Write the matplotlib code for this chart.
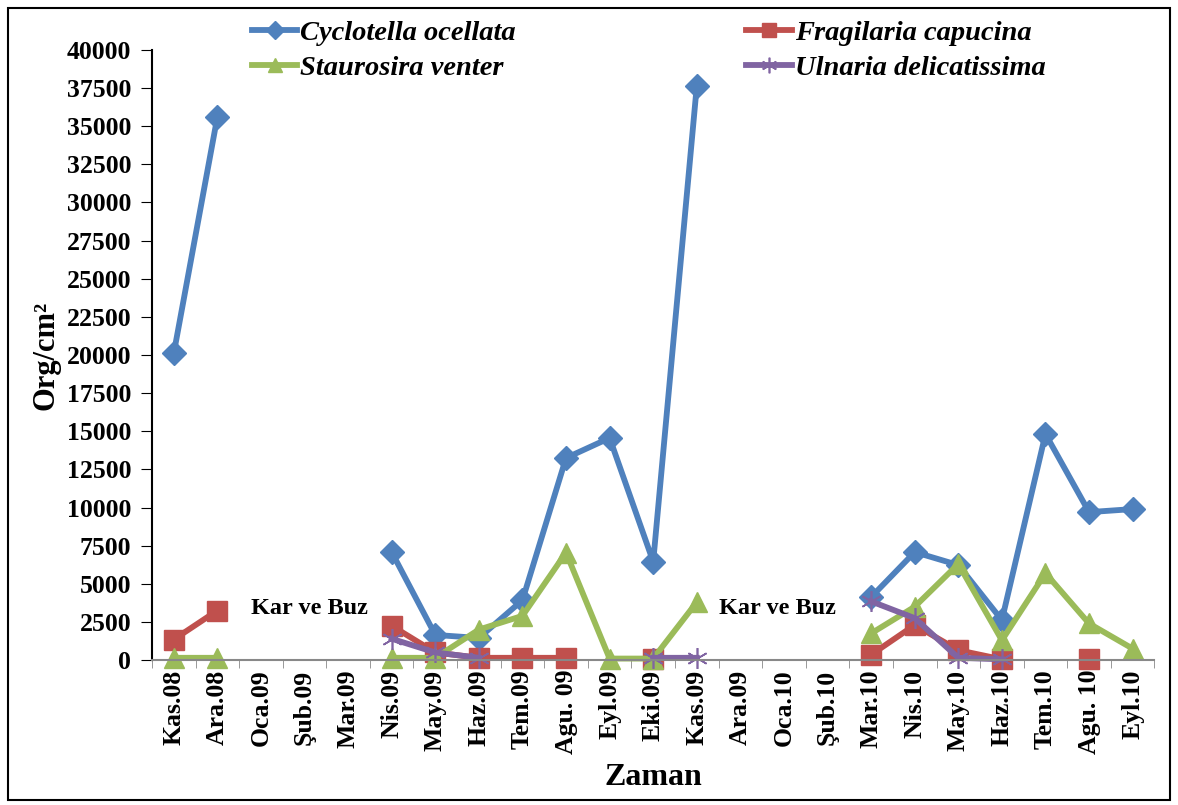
import numpy as np
import matplotlib
matplotlib.use("Agg")
import matplotlib.pyplot as plt
from matplotlib.patches import Rectangle

nan = np.nan

months = ["Kas.08", "Ara.08", "Oca.09", "Şub.09", "Mar.09", "Nis.09", "May.09",
          "Haz.09", "Tem.09", "Agu. 09", "Eyl.09", "Eki.09", "Kas.09", "Ara.09",
          "Oca.10", "Şub.10", "Mar.10", "Nis.10", "May.10", "Haz.10", "Tem.10",
          "Agu. 10", "Eyl.10"]

cyclotella = [20100, 35600, nan, nan, nan, 7080, 1650, 1450, 3930, 13250, 14560, 6450,
              37640, nan, nan, nan, 4130, 7080, 6230, 2620, 14820, 9700, 9900]
fragilaria = [1350, 3250, nan, nan, nan, 2250, 500, 150, 150, 150, nan, 50,
              nan, nan, nan, nan, 350, 2300, 650, 50, nan, 50, nan]
staurosira = [150, 150, nan, nan, nan, 150, 150, 2000, 2900, 7050, 100, 100,
              3800, nan, nan, nan, 1750, 3500, 6300, 1300, 5700, 2400, 750]
ulnaria = [nan, nan, nan, nan, nan, 1400, 500, 150, nan, nan, nan, 150,
           150, nan, nan, nan, 3850, 2750, 150, 50, nan, nan, nan]

serif = "Liberation Serif"
plt.rcParams['font.family'] = [serif, 'DejaVu Serif']

fig = plt.figure(figsize=(11.78, 8.05), dpi=100)
ax = fig.add_axes([0.129, 0.180, 0.851, 0.758])

x = np.arange(len(months))
lw = 4.2
h1, = ax.plot(x, cyclotella, color="#4F81BD", lw=lw, marker="D", ms=12, clip_on=False,
              label="Cyclotella ocellata")
h2, = ax.plot(x, fragilaria, color="#C0504D", lw=lw, marker="s", ms=14, clip_on=False,
              label="Fragilaria capucina")
h3, = ax.plot(x, staurosira, color="#9BBB59", lw=lw, marker="^", ms=14, clip_on=False,
              label="Staurosira venter")
h4, = ax.plot(x, ulnaria, color="#8064A2", lw=lw, marker=(6, 2, 0), ms=15, mew=1.2,
              clip_on=False, label="Ulnaria delicatissima")

ax.set_xlim(-0.5, len(months) - 0.5)
ax.set_ylim(0, 40000)
ax.set_yticks(np.arange(0, 40001, 2500))
ax.set_xticks(x)
ax.set_xticklabels(months, rotation=90, fontsize=18.5, fontweight="bold")
ax.set_xticks(np.arange(-0.5, len(months), 1), minor=True)
ax.tick_params(axis="x", which="major", length=0, pad=7)
ax.tick_params(axis="x", which="minor", length=6, color="#888888", direction="out")
ax.tick_params(axis="y", length=8, direction="out", labelsize=18.5, pad=7)
for lab in ax.get_yticklabels():
    lab.set_fontweight("bold")

ax.spines["top"].set_visible(False)
ax.spines["right"].set_visible(False)
ax.spines["bottom"].set_color("#888888")
ax.spines["bottom"].set_linewidth(1.5)
ax.spines["left"].set_linewidth(1.5)

ax.set_ylabel("Org/cm²", fontsize=22, fontweight="bold", labelpad=4)
ax.set_xlabel("Zaman", fontsize=23, fontweight="bold", labelpad=6)

ax.text(1.77, 3400, "Kar ve Buz", fontsize=17.5, fontweight="bold", va="center", ha="left")
ax.text(12.52, 3400, "Kar ve Buz", fontsize=17.5, fontweight="bold", va="center", ha="left")

fig.legend([h1, h3, h2, h4],
           ["Cyclotella ocellata", "Staurosira venter", "Fragilaria capucina",
            "Ulnaria delicatissima"],
           ncol=2, loc="upper left", bbox_to_anchor=(0.192, 1.007),
           frameon=False, handlelength=1.6, handletextpad=0.1, markerscale=0.75,
           columnspacing=8.1, labelspacing=0.33,
           prop={"family": serif, "style": "italic", "weight": "bold", "size": 20.5})

fig.patches.append(Rectangle((0.007, 0.006), 0.986, 0.984, transform=fig.transFigure,
                             fill=False, edgecolor="black", lw=1.5))

fig.savefig("out.png", dpi=100)
